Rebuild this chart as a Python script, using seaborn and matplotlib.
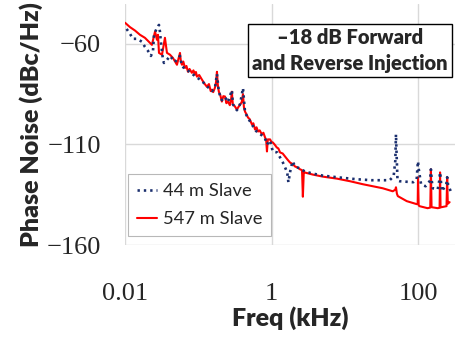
import matplotlib
matplotlib.use("Agg")
import matplotlib.pyplot as plt
from matplotlib.ticker import NullLocator, FixedLocator
from matplotlib.lines import Line2D
import seaborn as sns
import pandas as pd

# ---------------- data (Freq in kHz, phase noise in dBc/Hz) ----------------
red_freq = [0.0100, 0.0117, 0.0137, 0.0160, 0.0187, 0.0219, 0.0233, 0.0257, 0.0273, 0.0282,
            0.0291, 0.0320, 0.0351, 0.0374, 0.0411, 0.0451, 0.0512,
            0.0563, 0.0580, 0.0599, 0.0625, 0.0659, 0.0690, 0.0724, 0.0760, 0.0818, 0.0860,
            0.0902, 0.0930, 0.0960, 0.1030, 0.1124, 0.1200, 0.131, 0.140, 0.148, 0.154,
            0.160, 0.169, 0.175, 0.180, 0.185, 0.191, 0.200, 0.210, 0.220, 0.232,
            0.242, 0.254, 0.270, 0.282, 0.288, 0.292, 0.297, 0.315, 0.337, 0.352,
            0.372, 0.392, 0.408, 0.420, 0.435, 0.455, 0.477, 0.505, 0.541, 0.565,
            0.596, 0.625, 0.655, 0.690, 0.738, 0.775, 0.816, 0.845, 0.867, 0.890,
            0.955, 1.00, 1.04, 1.10, 1.18, 1.24, 1.31, 1.42, 1.53, 1.65,
            1.79, 1.95, 2.10, 2.28, 2.46, 2.61, 2.68, 2.76, 2.87, 3.67, 5.0,
            7.8, 11.8, 17.7, 24.2, 33.0, 45.2, 49.0, 50.0, 51.5, 53.0,
            70.2, 96.3, 99.0, 100.0, 102.0, 105.0, 135.0, 147.0, 150.0, 153.0,
            186.0, 197.0, 200.0, 203.0, 245.0, 250.0, 255.0, 270.0]
red_pn = [-49.5, -51.7, -53.4, -55.5, -57.0, -59.5, -60.5, -53.9, -58.0, -55.5,
          -64.5, -65.4, -57.0, -64.5, -65.4, -67.0, -70.4,
          -64.5, -69.0, -70.4, -68.8, -72.0, -71.0, -73.9, -72.5, -74.4, -73.2,
          -75.3, -74.0, -76.3, -75.5, -77.8, -79.5, -81.3, -80.0, -83.5, -82.8,
          -84.0, -81.8, -79.0, -73.9, -80.5, -83.8, -85.5, -88.7, -86.0, -86.2,
          -89.5, -88.7, -90.5, -87.0, -83.8, -87.5, -90.2, -91.0, -92.7, -91.5,
          -90.2, -89.0, -85.0, -91.5, -93.7, -95.0, -96.6, -97.5, -100.1, -99.5,
          -102.6, -101.5, -103.6, -103.0, -105.0, -104.2, -106.5, -107.8, -113.5, -107.5,
          -107.5, -108.8, -109.0, -110.0, -111.5, -112.0, -114.0, -114.5, -116.0, -117.5,
          -119.0, -119.8, -121.0, -121.5, -122.4, -122.8, -136.0, -123.5, -124.0, -125.0, -126.0,
          -127.0, -128.3, -129.8, -130.8, -131.8, -133.3, -132.5, -131.3, -134.5, -135.7,
          -138.2, -139.7, -139.5, -126.3, -140.3, -140.7, -141.7, -141.4, -122.4, -141.2,
          -141.7, -141.5, -123.9, -141.3, -140.7, -126.3, -139.5, -138.7]

blue_freq = [0.0105, 0.0117, 0.0128, 0.0146, 0.0171, 0.0187, 0.0206, 0.0226, 0.0241, 0.0249,
             0.0273, 0.0291, 0.0300, 0.0310, 0.0330, 0.0340, 0.0374, 0.0411, 0.0481, 0.0563,
             0.0599, 0.0659, 0.0771, 0.0902, 0.1124, 0.131, 0.154, 0.169, 0.180, 0.191,
             0.210, 0.232, 0.254, 0.288, 0.297, 0.337, 0.372, 0.408, 0.435, 0.477,
             0.541, 0.596, 0.655, 0.738, 0.816, 0.867, 0.955, 1.04, 1.20, 1.43,
             1.53, 1.64, 1.70, 1.82, 1.94, 2.10, 2.46, 2.87, 3.67, 5.0,
             7.8, 14.4, 23.3, 41.0, 46.5, 49.0, 50.0, 51.0, 52.5, 56.0,
             86.0, 96.0, 98.0, 100.0, 102.0, 110.0, 127.0, 146.0, 150.0, 154.0,
             159.0, 186.0, 195.0, 200.0, 205.0, 211.0, 243.0, 250.0, 257.0, 283.0]
blue_pn = [-52.6, -55.0, -57.5, -57.5, -59.0, -61.5, -63.5, -66.0, -63.5, -55.5,
           -52.0, -50.6, -54.0, -59.5, -68.0, -69.5, -68.0, -66.0, -69.0, -66.0,
           -71.0, -72.5, -74.0, -76.0, -78.5, -81.0, -83.5, -82.0, -75.0, -84.0,
           -88.0, -86.5, -89.0, -83.0, -90.0, -93.0, -90.0, -82.0, -94.0, -97.0,
           -100.0, -103.0, -104.0, -105.5, -107.0, -110.0, -108.0, -113.5, -114.0, -119.0,
           -121.4, -124.0, -128.8, -122.4, -118.4, -121.0, -122.0, -123.5, -124.5, -125.5,
           -126.3, -127.3, -127.8, -127.8, -125.8, -118.0, -105.0, -115.0, -128.0, -128.3,
           -128.8, -127.3, -122.0, -118.4, -122.0, -129.8, -130.8, -128.0, -122.4, -128.0,
           -131.8, -132.3, -128.0, -123.9, -128.0, -133.3, -130.0, -126.3, -130.0, -133.8]

series_names = ["44 m Slave", "547 m Slave"]
x_ticks = [0.01, 1, 100]
x_tick_labels = ["0.01", "1", "100"]
y_ticks = [-160, -110, -60]
annotation = "\u201318 dB Forward\nand Reverse Injection"

# ---------------- plotting ----------------
sns.set_style("white")
plt.rcParams["font.family"] = ["Lato", "DejaVu Sans"]

fig = plt.figure(figsize=(4.56, 3.39), dpi=100)
ax = fig.add_axes([125 / 456, 1 - 245 / 339, 331 / 456, (245 - 3.6) / 339])
ax.set_xscale("log")

red_df = pd.DataFrame({"f": red_freq, "pn": red_pn})
blue_df = pd.DataFrame({"f": blue_freq, "pn": blue_pn})

red_c = "#ff0000"
blue_c = "#1b2f6e"
blue_ls = (0, (0.9, 1.5))
sns.lineplot(data=red_df, x="f", y="pn", ax=ax, color=red_c, lw=1.5,
             estimator=None, sort=False, zorder=3)
sns.lineplot(data=blue_df, x="f", y="pn", ax=ax, color=blue_c, lw=1.9,
             linestyle=blue_ls, estimator=None, sort=False, zorder=4)

ax.set_xlim(0.01, 330)
ax.set_ylim(-160, -40)
ax.xaxis.set_major_locator(FixedLocator(x_ticks))
ax.xaxis.set_minor_locator(NullLocator())
ax.set_xticklabels(x_tick_labels)
ax.set_yticks(y_ticks)

for s in ax.spines.values():
    s.set_visible(False)
grid_c = "#d9d9d9"
ax.grid(True, color=grid_c, lw=1.0)
ax.tick_params(axis="both", which="major", length=7.2, width=0.8, color=grid_c,
               direction="out", labelsize=19)
ax.tick_params(axis="y", pad=10)
ax.tick_params(axis="x", pad=20)
for lab in ax.get_xticklabels() + ax.get_yticklabels():
    lab.set_fontfamily(["Liberation Serif", "DejaVu Serif"])

ax.set_xlabel("Freq (kHz)", fontsize=18, fontweight="heavy", labelpad=1)
ax.set_ylabel("Phase Noise (dBc/Hz)", fontsize=18, fontweight="heavy", labelpad=3)

handles = [Line2D([], [], color=blue_c, lw=1.9, linestyle=blue_ls),
           Line2D([], [], color=red_c, lw=1.5)]
leg = ax.legend(handles, series_names, loc="upper left", bbox_to_anchor=(0.009, 0.294),
                borderaxespad=0, fontsize=13.2, frameon=True, fancybox=False,
                handlelength=1.1, handletextpad=0.3, borderpad=0.5, labelspacing=0.65)
leg.get_frame().set_edgecolor("#a6a6a6")
leg.get_frame().set_linewidth(0.8)
leg.set_zorder(10)

ax.text(0.68, 0.806, annotation, transform=ax.transAxes, ha="center", va="center",
        fontsize=14.5, fontweight="heavy", linespacing=1.4, zorder=10,
        bbox=dict(boxstyle="square,pad=0.22", fc="white", ec="black", lw=1.0))

fig.savefig("out.png", dpi=100)
